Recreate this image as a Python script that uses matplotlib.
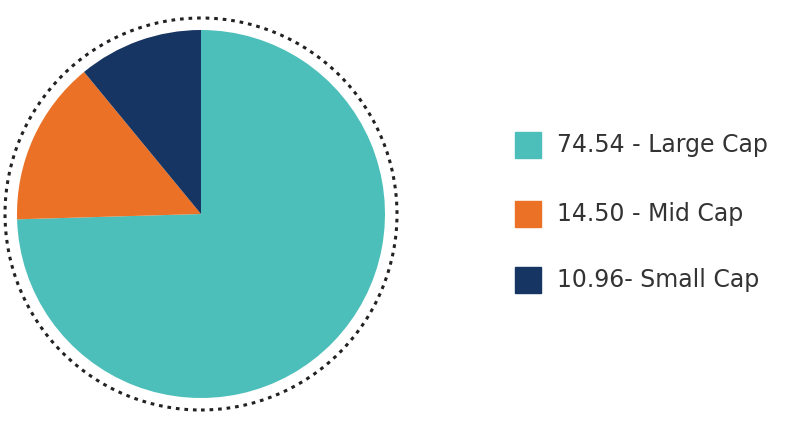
import matplotlib.pyplot as plt
from matplotlib.patches import Circle, Rectangle

labels = ['74.54 - Large Cap', '14.50 - Mid Cap', '10.96- Small Cap']
values = [74.54, 14.50, 10.96]
colors = ['#4dbfba', '#ea7125', '#173563']

W, H = 802, 424
fig = plt.figure(figsize=(W / 100, H / 100), dpi=100)

# pie axes in pixel units, centre at (201, 210 from bottom)
ax = fig.add_axes([(201 - 205) / W, (210 - 205) / H, 410 / W, 410 / H])
ax.set_xlim(-205, 205)
ax.set_ylim(-205, 205)
ax.set_aspect('equal')
ax.axis('off')
ax.pie(values, colors=colors, radius=184, startangle=90, counterclock=False,
       wedgeprops=dict(linewidth=0))
ax.set_xlim(-205, 205)
ax.set_ylim(-205, 205)
ax.add_patch(Circle((0, 0), 196, fill=False, linestyle=(0, (1.2, 1.6)),
                    linewidth=2.2, edgecolor='#222222'))

# legend
lax = fig.add_axes([0, 0, 1, 1])
lax.set_xlim(0, W)
lax.set_ylim(H, 0)
lax.axis('off')
ys = [145, 214, 280]
for lab, c, y in zip(labels, colors, ys):
    lax.add_patch(Rectangle((515, y - 13), 26, 26, color=c))
    lax.text(557, y, lab, va='center', ha='left', fontsize=17, color='#333333')

fig.savefig('out.png', dpi=100)
